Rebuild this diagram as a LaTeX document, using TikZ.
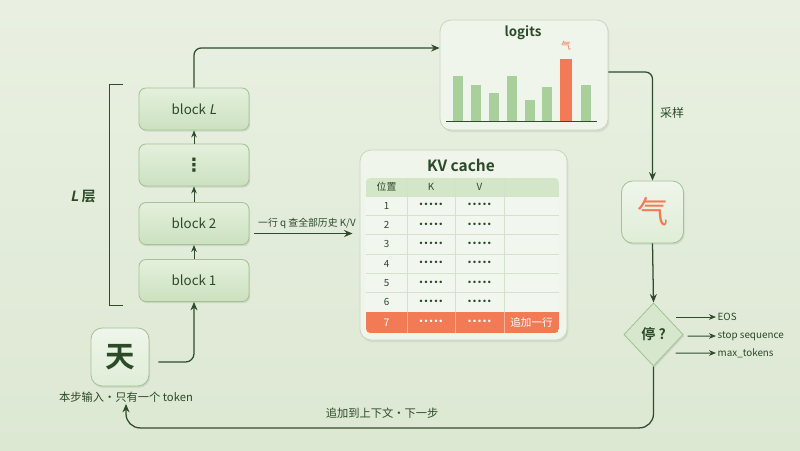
\documentclass[tikz,border=0pt]{standalone}
\usepackage{fontspec}
\setmainfont{Noto Sans CJK SC}[BoldFont={* Bold},ItalicFont={*},ItalicFeatures={FakeSlant=0.2},BoldItalicFont={* Bold},BoldItalicFeatures={FakeSlant=0.2}]
\newfontfamily\dotfont{DejaVu Sans}
\usetikzlibrary{arrows.meta,calc,positioning,shapes.geometric,shadows}
\definecolor{bgTop}{HTML}{E9F0E2}
\definecolor{bgBot}{HTML}{DDE8D3}
\definecolor{inkCol}{HTML}{2C4A28}
\definecolor{lineCol}{HTML}{2F4D2C}
\definecolor{orCol}{HTML}{F27B55}
\definecolor{barCol}{HTML}{A9D09B}
\definecolor{blkTop}{HTML}{E4F0DC}
\definecolor{blkBot}{HTML}{CCE1C0}
\definecolor{blkEdge}{HTML}{A3C395}
\definecolor{panFill}{HTML}{EFF5EB}
\definecolor{panEdge}{HTML}{C6D8BB}
\definecolor{hdrCol}{HTML}{D4E6CA}
\definecolor{cellCol}{HTML}{F1F6EE}
\definecolor{gridCol}{HTML}{D3E2C9}
\tikzset{
  blk/.style={draw=blkEdge, line width=0.6pt, rounded corners=5pt, top color=blkTop, bottom color=blkBot,
              minimum width=2.75cm, minimum height=1.05cm, font=\fontsize{9.5}{11}\selectfont, text=inkCol,
              drop shadow={opacity=0.2, shadow xshift=0.8pt, shadow yshift=-1.2pt}},
  tok/.style={draw=blkEdge, line width=0.6pt, rounded corners=8pt, top color=panFill, bottom color=blkTop!80!blkBot,
              minimum size=#1, inner sep=0pt, drop shadow={opacity=0.2, shadow xshift=0.8pt, shadow yshift=-1.2pt}},
  panel/.style={draw=panEdge, line width=0.6pt, fill=panFill, rounded corners=8pt,
                drop shadow={opacity=0.15, shadow xshift=1pt, shadow yshift=-1.5pt}},
  dia/.style={diamond, draw=blkEdge, line width=0.6pt, fill=blkBot!70!panFill, inner sep=0pt,
              minimum width=1.48cm, minimum height=1.58cm, font=\bfseries\fontsize{10}{12}\selectfont, text=inkCol,
              drop shadow={opacity=0.2, shadow xshift=0.8pt, shadow yshift=-1.2pt}},
  arr/.style={-{Stealth[length=6pt,width=5pt]}, line width=0.9pt, draw=lineCol},
  arrs/.style={-{Stealth[length=5pt,width=4pt]}, line width=0.7pt, draw=lineCol},
  lbl/.style={font=\fontsize{8}{9}\selectfont, text=inkCol, inner sep=1pt},
  sml/.style={font=\fontsize{7}{8}\selectfont, text=inkCol, inner sep=1pt},
  ttl/.style={font=\bfseries\fontsize{#1}{12}\selectfont, text=inkCol},
  tcell/.style={font=\fontsize{7}{8}\selectfont, text=inkCol, inner sep=0pt},
  tdots/.style={font=\dotfont\fontsize{6}{6}\selectfont, text=inkCol, inner sep=0pt},
  gridln/.style={draw=gridCol, line width=0.5pt},
}

\begin{document}
\begin{tikzpicture}[x=0.025cm,y=-0.025cm]
  \shade[top color=bgTop, bottom color=bgBot] (0,0) rectangle (800,450);
  \useasboundingbox (0,0) rectangle (800,450);

  % layer stack
  \node[blk] (bL) at (194,109) {block \textit{L}};
  \node[blk, font=\dotfont\bfseries\fontsize{13}{14}\selectfont] (bdots) at (194,165) {⋮};
  \node[blk] (b2) at (194,223.5) {block 2};
  \node[blk] (b1) at (194,280.5) {block 1};
  \foreach \a/\b in {b1/b2,b2/bdots,bdots/bL}
    \draw[arrs] (\a.north) -- (\b.south);
  \draw[line width=0.7pt, lineCol] (123,84) -- (109,84) -- (109,305) -- (123,305);
  \node[ttl=10] (nL) at (83,197) {\textit{L} 层};

  % input token
  \node[tok=1.45cm, font=\bfseries\fontsize{21}{22}\selectfont, text=inkCol] (tian) at (120,357) {天};
  \node[lbl] (inlab) at (126,397) {本步输入·只有一个 token};
  \draw[arr, rounded corners=6pt] ($(tian.east)+(9,5)$) -| (b1.south);

  % logits
  \node[panel, minimum width=4.2cm, minimum height=2.75cm] (logits) at (524,75) {};
  \node[ttl=9.5] (lgtitle) at (523,33) {logits};
  \foreach \x/\t in {453/76,471/85,489/93,507/76,525/100,542/87,581/85}
    \fill[barCol] (\x,121) rectangle (\x+10,\t);
  \fill[orCol] (560,121) rectangle (572,59);
  \draw[line width=0.7pt, lineCol] (446,121) -- (597,121);
  \node[font=\fontsize{7}{8}\selectfont, text=orCol, inner sep=0pt] (qsmall) at (566,46) {气};
  \draw[arr, rounded corners=5pt] (bL.north) |- ($(logits.west)+(0,-27)$);

  % sampling
  \node[tok=1.55cm, font=\fontsize{22}{23}\selectfont, text=orCol] (qi) at (652.5,212) {气};
  \draw[arr, rounded corners=5pt] ($(logits.east)+(0,-3)$) -| (qi.north);
  \node[lbl, font=\fontsize{8.5}{9}\selectfont] (samp) at (672,113) {采样};

  % stop check
  \node[dia] (stop) at (653.5,334.5) {停 ?};
  \draw[arr] (qi.south) -- (stop.north);
  \node[sml, anchor=west] (eos) at (716,317) {EOS};
  \node[sml, anchor=west] (sseq) at (716,336) {stop sequence};
  \node[sml, anchor=west] (maxt) at (716,353) {max\_tokens};
  \draw[arrs] ($(stop.east)+(-8,-17.5)$) -- (eos.west);
  \draw[arrs] ($(stop.east)+(4,1.5)$) -- (sseq.west);
  \draw[arrs] ($(stop.east)+(-8,18.5)$) -- (maxt.west);

  % loop back
  \draw[arr, rounded corners=10pt] (stop.south) |- ($(inlab.south)+(0,24)$) -- (inlab.south);
  \node[lbl] (nextlab) at (382,413) {追加到上下文·下一步};

  % kv cache
  \node[panel, minimum width=5.175cm, minimum height=4.75cm] (kv) at (463.5,245) {};
  \node[ttl=11] (kvtitle) at (461,165) {KV cache};
  \begin{scope}
    \clip[rounded corners=3pt] (366,178) rectangle (559,333);
    \fill[hdrCol] (366,178) rectangle (559,196);
    \fill[cellCol] (366,196) rectangle (559,312);
    \fill[orCol] (366,312) rectangle (559,333);
  \end{scope}
  \foreach \i in {0,...,5}
    \draw[gridln] (366,{196+19.35*\i}) -- (559,{196+19.35*\i});
  \foreach \x in {407,455,504}{
    \draw[gridln] (\x,178) -- (\x,312);
    \draw[orCol!60!white, line width=0.5pt] (\x,312) -- (\x,333);
  }
  \node[tcell] (hpos) at (386.5,187) {位置};
  \node[tcell] (hk) at (431,187) {K};
  \node[tcell] (hv) at (479.5,187) {V};
  \foreach \i in {1,...,6}{
    \pgfmathsetmacro{\yc}{196+19.35*(\i-1)+9.7}
    \node[tcell] (pos\i) at (386.5,\yc) {\i};
    \node[tdots] (k\i) at (431,\yc) {•••••};
    \node[tdots] (v\i) at (479.5,\yc) {•••••};
  }
  \node[tcell, text=white, font=\fontsize{7.5}{8}\selectfont] (pos7) at (386.5,322.5) {7};
  \node[tdots, text=white] (k7) at (431,322.5) {•••••};
  \node[tdots, text=white] (v7) at (479.5,322.5) {•••••};
  \node[tcell, text=white, font=\fontsize{7.5}{8}\selectfont] (addrow) at (531.5,322.5) {追加一行};
  \coordinate (qstart) at ($(b2.east)+(5,10)$);
  \draw[arr, shorten >=5pt] (qstart) -- node[sml, above=2pt] (qlab) {一行 q 查全部历史 K/V} (qstart -| kv.west);
\end{tikzpicture}
\end{document}
